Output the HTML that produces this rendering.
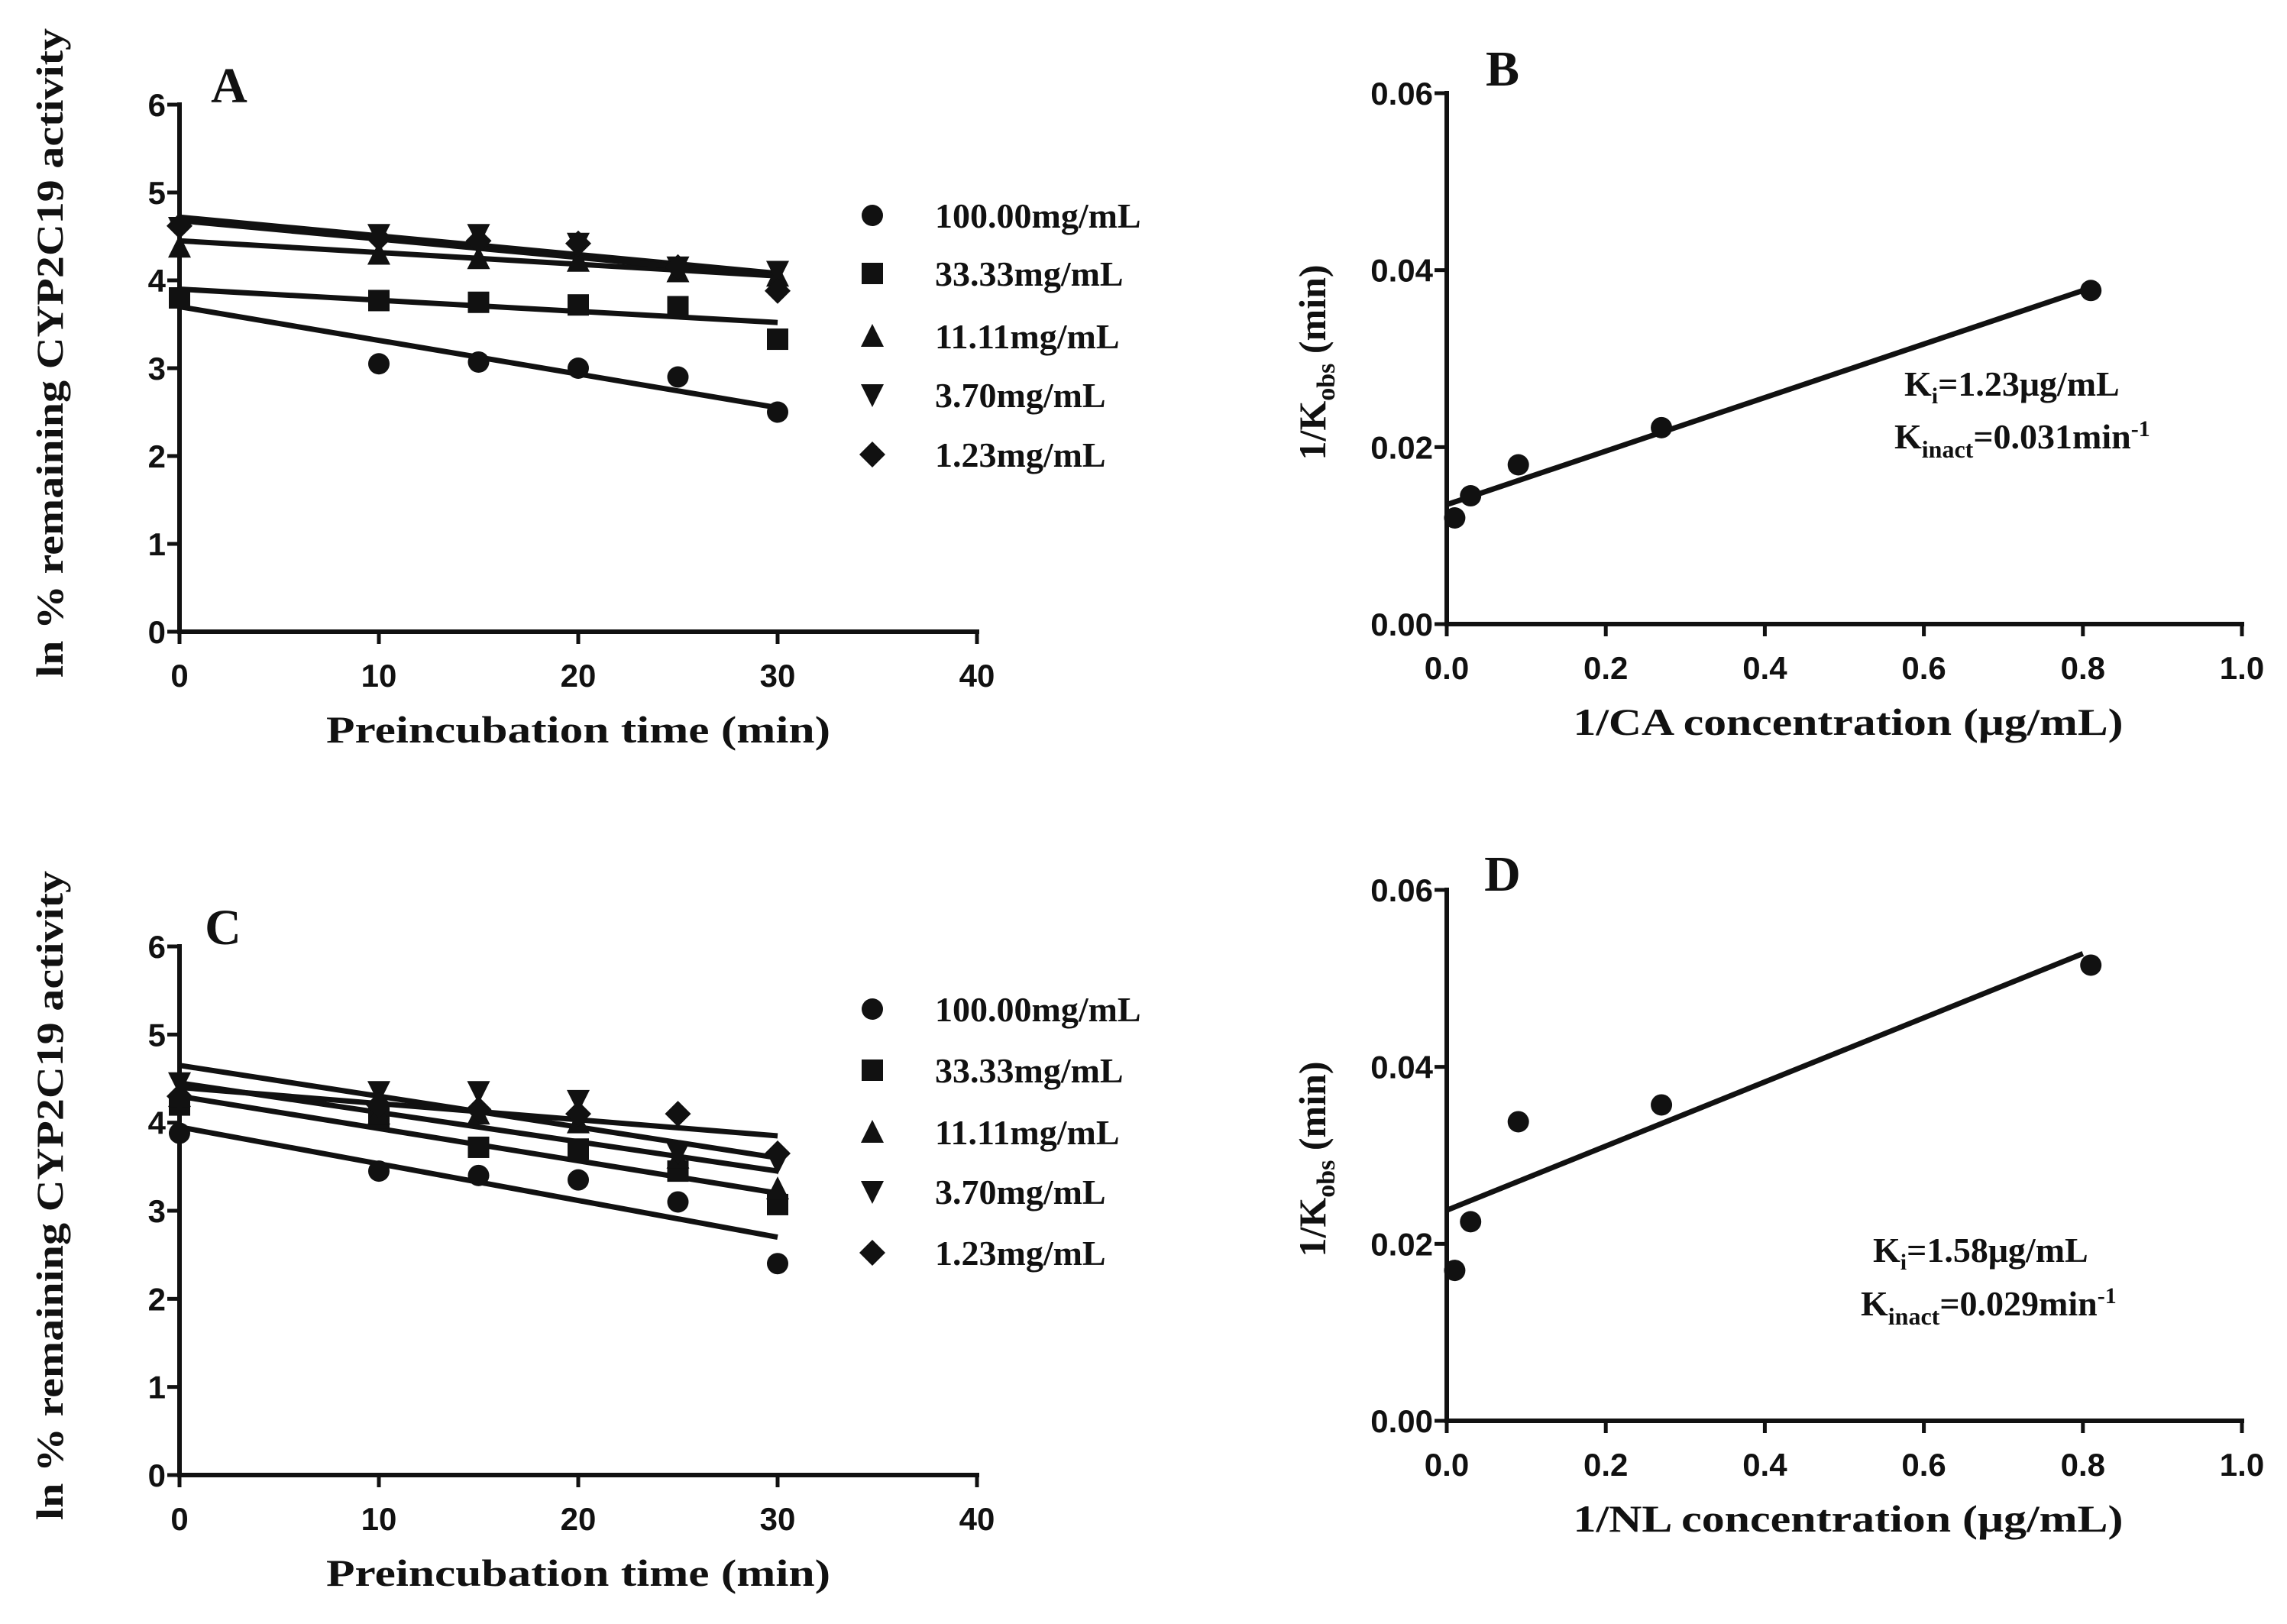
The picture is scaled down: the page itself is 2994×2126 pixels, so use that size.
<!DOCTYPE html>
<html><head><meta charset="utf-8">
<style>
html,body{margin:0;padding:0;background:#fff;}
svg{display:block;}
.tick{font-family:"Liberation Sans",sans-serif;font-weight:bold;font-size:42px;fill:#111;}
.ser{font-family:"Liberation Serif",serif;font-weight:bold;fill:#111;}
</style></head>
<body>
<svg id="fig" width="2994" height="2126" viewBox="0 0 2994 2126" xmlns="http://www.w3.org/2000/svg">
<rect width="2994" height="2126" fill="#fff"/>
</svg>
<script>
const NS="http://www.w3.org/2000/svg";
const svg=document.getElementById('fig');
// ---- data ----
const timeCats=[0,10,15,20,25,30];
const seriesNames=["100.00mg/mL","33.33mg/mL","11.11mg/mL","3.70mg/mL","1.23mg/mL"];
const markerShapes=["circle","square","triangle","tridown","diamond"];
const aVals100=[3.8,3.05,3.07,3.0,2.9,2.5];
const aVals33=[3.8,3.77,3.75,3.72,3.7,3.33];
const aVals11=[4.38,4.3,4.25,4.22,4.1,4.05];
const aVals37=[4.6,4.52,4.52,4.42,4.15,4.1];
const aVals12=[4.62,4.48,4.45,4.42,4.15,3.88];
const aFitStart=[3.7,3.9,4.45,4.72,4.68];
const aFitEnd=[2.55,3.52,4.05,4.08,4.05];
const cVals100=[3.88,3.45,3.4,3.35,3.1,2.4];
const cVals33=[4.2,4.05,3.72,3.7,3.45,3.07];
const cVals11=[4.3,4.1,4.1,4.0,3.6,3.25];
const cVals37=[4.45,4.35,4.35,4.25,3.65,3.55];
const cVals12=[4.3,4.2,4.15,4.1,4.1,3.65];
const cFitStart=[3.95,4.3,4.45,4.65,4.4];
const cFitEnd=[2.7,3.2,3.45,3.6,3.85];
const concX=[0.01,0.03,0.09,0.27,0.81];
const bVals=[0.012,0.0145,0.018,0.0222,0.0377];
const bFit=[0.0135,0.038];
const bFitX=[0,0.81];
const dVals=[0.017,0.0225,0.0338,0.0357,0.0515];
const dFit=[0.0238,0.0528];
const dFitX=[0,0.8];
const timeTicks=[0,10,20,30,40];
const actTicks=[0,1,2,3,4,5,6];
const concTicks=["0.0","0.2","0.4","0.6","0.8","1.0"];
const kobsTicks=["0.00","0.02","0.04","0.06"];

function el(tag,attrs,parent){const e=document.createElementNS(NS,tag);for(const k in attrs)e.setAttribute(k,attrs[k]);(parent||svg).appendChild(e);return e;}

function marker(shape,cx,cy,g){
  const s=14;let e;
  if(shape==="circle")e=el('circle',{cx:cx,cy:cy,r:s},g);
  else if(shape==="square")e=el('rect',{x:cx-s,y:cy-s,width:2*s,height:2*s},g);
  else if(shape==="triangle")e=el('polygon',{points:`${cx},${cy-s-2} ${cx-s-1},${cy+s} ${cx+s+1},${cy+s}`},g);
  else if(shape==="tridown")e=el('polygon',{points:`${cx},${cy+s+2} ${cx-s-1},${cy-s} ${cx+s+1},${cy-s}`},g);
  else e=el('polygon',{points:`${cx},${cy-s-3} ${cx+s+3},${cy} ${cx},${cy+s+3} ${cx-s-3},${cy}`},g);
  e.setAttribute('fill','#111');
  return e;
}

function axes(p){
  const g=el('g',{});
  
  
  el('line',{x1:p.L,y1:p.T-3,x2:p.L,y2:p.B+3,stroke:'#111','stroke-width':6},g);
  el('line',{x1:p.L-3,y1:p.B,x2:p.R+3,y2:p.B,stroke:'#111','stroke-width':6},g);
  p.yt.forEach(v=>{const y=p.sy(+v);
    el('line',{x1:p.L-16,y1:y,x2:p.L,y2:y,stroke:'#111','stroke-width':5},g);
    const t=el('text',{x:p.L-18,y:y+15,'text-anchor':'end',class:'tick'},g);t.textContent=v;
    });
  p.xt.forEach(v=>{const x=p.sx(+v);
    el('line',{x1:x,y1:p.B,x2:x,y2:p.B+16,stroke:'#111','stroke-width':5},g);
    const t=el('text',{x:x,y:p.B+72,'text-anchor':'middle',class:'tick'},g);t.textContent=v;
    });
}

function text(str,x,y,size,name,extra){
  const t=el('text',Object.assign({x:x,y:y,class:'ser','font-size':size},extra||{}));
  t.textContent=str;
  
  
  return t;
}

function timePanel(name,L,R,T,B,vals,fs,fe,letter,lx,ly,legY){
  const sx=v=>L+(R-L)*v/40, sy=v=>B-(B-T)*v/6;
  axes({name,L,R,T,B,sx,sy,yt:actTicks,xt:timeTicks});
  const g=el('g',{});
  
  
  vals.forEach((arr,i)=>{
    const ln=el('line',{x1:sx(0),y1:sy(fs[i]),x2:sx(30),y2:sy(fe[i]),stroke:'#111','stroke-width':7},g);
    
    
  });
  vals.forEach((arr,i)=>{
    arr.forEach((v,j)=>{const m=marker(markerShapes[i],sx(timeCats[j]),sy(v),g);
      
      });
  });
  // legend
  const lg=el('g',{});
  
  
  seriesNames.forEach((s,i)=>{
    const y=legY[i];
    const m=marker(markerShapes[i],1142,y,lg);
    
    
    const t=text(s,1224,y+16,46,'legend-entry');
    lg.appendChild(t);
  });
  text(letter,lx,ly,66,'panel-label-'+letter.toLowerCase(),{'text-anchor':'middle'});
  text('Preincubation time (min)',(L+R)/2,B+145,50,'x-axis-title',{'text-anchor':'middle',textLength:660,lengthAdjust:'spacingAndGlyphs'});
  const yc=(T+B)/2-20;
  text('ln % remaining CYP2C19 activity',0,0,50,'y-axis-title',{'text-anchor':'middle',transform:`translate(82,${yc}) rotate(-90)`,textLength:850,lengthAdjust:'spacingAndGlyphs'});
}

function concPanel(name,L,R,T,B,vals,fit,fitX,letter,lx,ly,xlabel,ki,kin,kiX,kiY,kinX,kinY){
  const sx=v=>L+(R-L)*v/1.0, sy=v=>B-(B-T)*v/0.06;
  axes({name,L,R,T,B,sx,sy,yt:kobsTicks,xt:concTicks});
  const g=el('g',{});
  
  
  const ln=el('line',{x1:sx(fitX[0]),y1:sy(fit[0]),x2:sx(fitX[1]),y2:sy(fit[1]),stroke:'#111','stroke-width':7},g);
  
  
  vals.forEach((v,j)=>{const m=marker('circle',sx(concX[j]),sy(v),g);
    
    });
  text(letter,lx,ly,66,'panel-label-'+letter.toLowerCase(),{'text-anchor':'middle'});
  text(xlabel,(L+R)/2+5,B+145,50,'x-axis-title',{'text-anchor':'middle',textLength:720,lengthAdjust:'spacingAndGlyphs'});
  const t=el('text',{class:'ser','font-size':50,'text-anchor':'middle',transform:`translate(1735,${(T+B)/2+5}) rotate(-90)`});
  
  
  t.innerHTML='1/K<tspan font-size="34" dy="12">obs</tspan><tspan dy="-12"> (min)</tspan>';
  const a=el('text',{x:kiX,y:kiY,class:'ser','font-size':46});
  
  
  a.innerHTML='K<tspan font-size="30" dy="10">i</tspan><tspan dy="-10">='+ki+'μg/mL</tspan>';
  const b=el('text',{x:kinX,y:kinY,class:'ser','font-size':46});
  
  
  b.innerHTML='K<tspan font-size="32" dy="12">inact</tspan><tspan dy="-12">='+kin+'min</tspan><tspan font-size="30" dy="-16">-1</tspan>';
}

timePanel('panel-a',235,1279,137,827,[aVals100,aVals33,aVals11,aVals37,aVals12],aFitStart,aFitEnd,'A',300,134,[282,358,440,517,595]);
timePanel('panel-c',235,1279,1239,1931,[cVals100,cVals33,cVals11,cVals37,cVals12],cFitStart,cFitEnd,'C',292,1236,[1321,1401,1482,1560,1640]);
concPanel('panel-b',1894,2935,122,817,bVals,bFit,bFitX,'B',1967,112,'1/CA concentration (μg/mL)','1.23','0.031',2493,518,2480,587);
concPanel('panel-d',1894,2935,1165,1860,dVals,dFit,dFitX,'D',1967,1166,'1/NL concentration (μg/mL)','1.58','0.029',2452,1652,2436,1722);
</script>
</body></html>
